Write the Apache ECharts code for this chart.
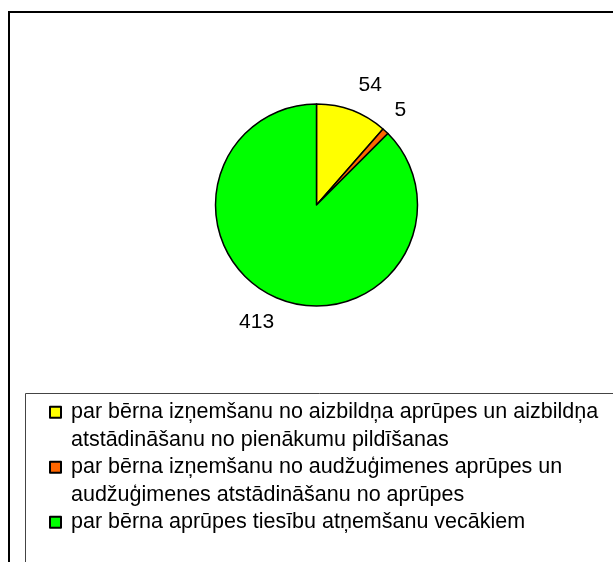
<!DOCTYPE html>
<html>
<head>
<meta charset="utf-8">
<script src="https://cdn.jsdelivr.net/npm/echarts@6/dist/echarts.min.js"></script>
<style>
  html, body { margin: 0; padding: 0; background: #fff; }
  #chart { width: 613px; height: 562px; }
</style>
</head>
<body>
<div id="chart"></div>
<script>
const categories = [
  "par bērna izņemšanu no aizbildņa aprūpes un aizbildņa atstādināšanu no pienākumu pildīšanas",
  "par bērna izņemšanu no audžuģimenes aprūpes un audžuģimenes atstādināšanu no aprūpes",
  "par bērna aprūpes tiesību atņemšanu vecākiem",
];
// how the legend text wraps
const legendLines = [
  ["par bērna izņemšanu no aizbildņa aprūpes un aizbildņa", "atstādināšanu no pienākumu pildīšanas"],
  ["par bērna izņemšanu no audžuģimenes aprūpes un", "audžuģimenes atstādināšanu no aprūpes"],
  ["par bērna aprūpes tiesību atņemšanu vecākiem"],
];
const values = [54, 5, 413];
const colors = ["#ffff00", "#ff6600", "#00ff00"];

const font = "'Liberation Sans', Arial, sans-serif";
const chart = echarts.init(document.getElementById("chart"));

const pieData = categories.map((name, i) => ({
  name: name,
  value: values[i],
  itemStyle: { color: colors[i] },
}));

// small nudges so the value labels sit where excel put them
const labelNudge = [[7, 5], [-7, 2], [-9, -6]];

const option = {
  animation: false,
  textStyle: { fontFamily: font },
  graphic: [
    {
      type: "rect",
      shape: { x: 9, y: 12, width: 700, height: 700 },
      style: { fill: "none", stroke: "#000", lineWidth: 2 },
      z: 0,
    },
    {
      type: "rect",
      shape: { x: 25.5, y: 393.5, width: 700, height: 300 },
      style: { fill: "none", stroke: "#444", lineWidth: 1 },
      z: 0,
    },
  ],
  legend: {
    orient: "vertical",
    left: 49,
    top: 371,
    height: 500,
    padding: 0,
    itemGap: -27.5,
    itemWidth: 11,
    itemHeight: 11,
    icon: "rect",
    selectedMode: false,
    data: categories,
    // pad each entry to three lines so the first line is level with the marker
    formatter: (name) => {
      const lines = legendLines[categories.indexOf(name)];
      const rows = [" "].concat(lines);
      while (rows.length < 3) rows.push(" ");
      return rows.join("\n");
    },
    textStyle: {
      fontFamily: font,
      fontSize: 21.5,
      lineHeight: 27.5,
      color: "#000",
      padding: [0, 0, 0, 5],
    },
  },
  series: [
    {
      type: "pie",
      center: [316.5, 205],
      radius: 101,
      startAngle: 90,
      clockwise: true,
      data: pieData,
      label: { show: false },
      labelLine: { show: false },
      itemStyle: { borderColor: "#000", borderWidth: 1.5 },
      emphasis: { disabled: true },
    },
    {
      // invisible ring used only to place value labels
      type: "pie",
      center: [316.5, 205],
      radius: [0, 260],
      startAngle: 90,
      clockwise: true,
      silent: true,
      data: pieData.map((d, i) => ({
        name: d.name,
        value: d.value,
        label: { offset: labelNudge[i] },
      })),
      itemStyle: { color: "transparent", borderWidth: 0 },
      label: {
        show: true,
        position: "inside",
        rotate: 0,
        formatter: "{c}",
        fontFamily: font,
        fontSize: 21,
        color: "#000",
      },
      labelLine: { show: false },
      emphasis: { disabled: true },
    },
  ],
};

chart.setOption(option);
window.addEventListener("resize", () => {
  chart.resize();
});
</script>
</body>
</html>
